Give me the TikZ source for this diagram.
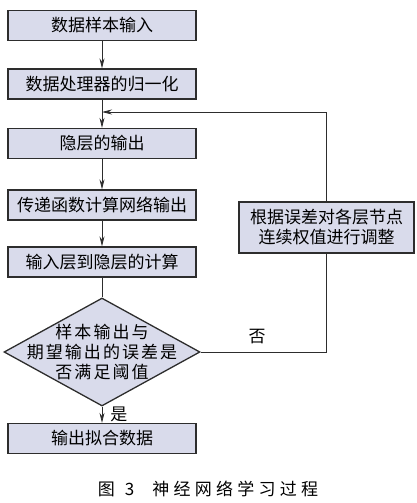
\documentclass[tikz,border=0pt]{standalone}
\usepackage{fontspec}
\newfontfamily\cjk{Noto Sans CJK SC}
\newfontfamily\cjkwide[LetterSpace=12]{Noto Sans CJK SC}
\newfontfamily\cjkcap[LetterSpace=25]{Noto Sans CJK SC}
\usetikzlibrary{shapes.geometric,arrows.meta,positioning}
\definecolor{boxfill}{RGB}{217,219,235}
\definecolor{boxline}{RGB}{45,45,45}
\tikzset{
  stepbox/.style={draw=boxline, line width=1.3pt, fill=boxfill, minimum width=188pt,
    minimum height=30pt, inner sep=0pt, font=\cjk\fontsize{17}{20}\selectfont},
  decision/.style={draw=boxline, line width=1.3pt, fill=boxfill, shape=diamond,
    minimum width=196pt, minimum height=108pt, inner sep=0pt},
  flow/.style={draw=boxline, line width=0.8pt, -{Stealth[length=10pt,width=5pt]}},
  txt/.style={font=\cjk\fontsize{17}{20}\selectfont, inner sep=0pt}
}
\begin{document}
\begin{tikzpicture}[x=1pt, y=-1pt]
            \useasboundingbox (0,0) rectangle (417,503);

            % Etapes principales
            \node[stepbox] (input) at (102,25.5) {数据样本输入};
            \node[stepbox] (norm) at (102,84) {数据处理器的归一化};
            \node[stepbox] (hidden) at (102,143.5) {隐层的输出};
            \node[stepbox] (transfer) at (102,205) {传递函数计算网络输出};
            \node[stepbox] (calc) at (102,262) {输入层到隐层的计算};

            % Test du seuil
            \node[decision] (check) at (102,352) {};
            \node[txt, font=\cjkwide\fontsize{17}{20}\selectfont, align=center] (checktext) at (check) {样本输出与\\期望输出的误差是\\否满足阈值};

            \node[stepbox] (output) at (102,438.5) {输出拟合数据};

            % Correction des poids
            \node[stepbox, minimum width=175pt, minimum height=51pt, align=center] (adjust) at (326.5,227.5) {根据误差对各层节点\\连续权值进行调整};
            \coordinate (merge) at (102,112);

            % Liaisons
            \draw[flow] (input) -- (norm);
            \draw[flow] (norm) -- (hidden);
            \draw[flow] (hidden) -- (transfer);
            \draw[flow] (transfer) -- (calc);
            \draw[boxline, line width=0.8pt] (calc) -- (check.north);
            \draw[flow] (check.south) -- (output) node[txt, midway, right=8pt] (yes) {是};

            % Boucle de retour
            \draw[boxline, line width=0.8pt] (check.east) -| (adjust.south);
            \draw[flow] (adjust.north) |- (merge);
            \node[txt] (no) at (257,337) {否};

            % Legende
            \node[txt, font=\cjkcap\fontsize{17}{20}\selectfont] (caption) at (208,489) {图\hspace{10pt}3\hspace{18pt}神经网络学习过程};

        \end{tikzpicture}
\end{document}
